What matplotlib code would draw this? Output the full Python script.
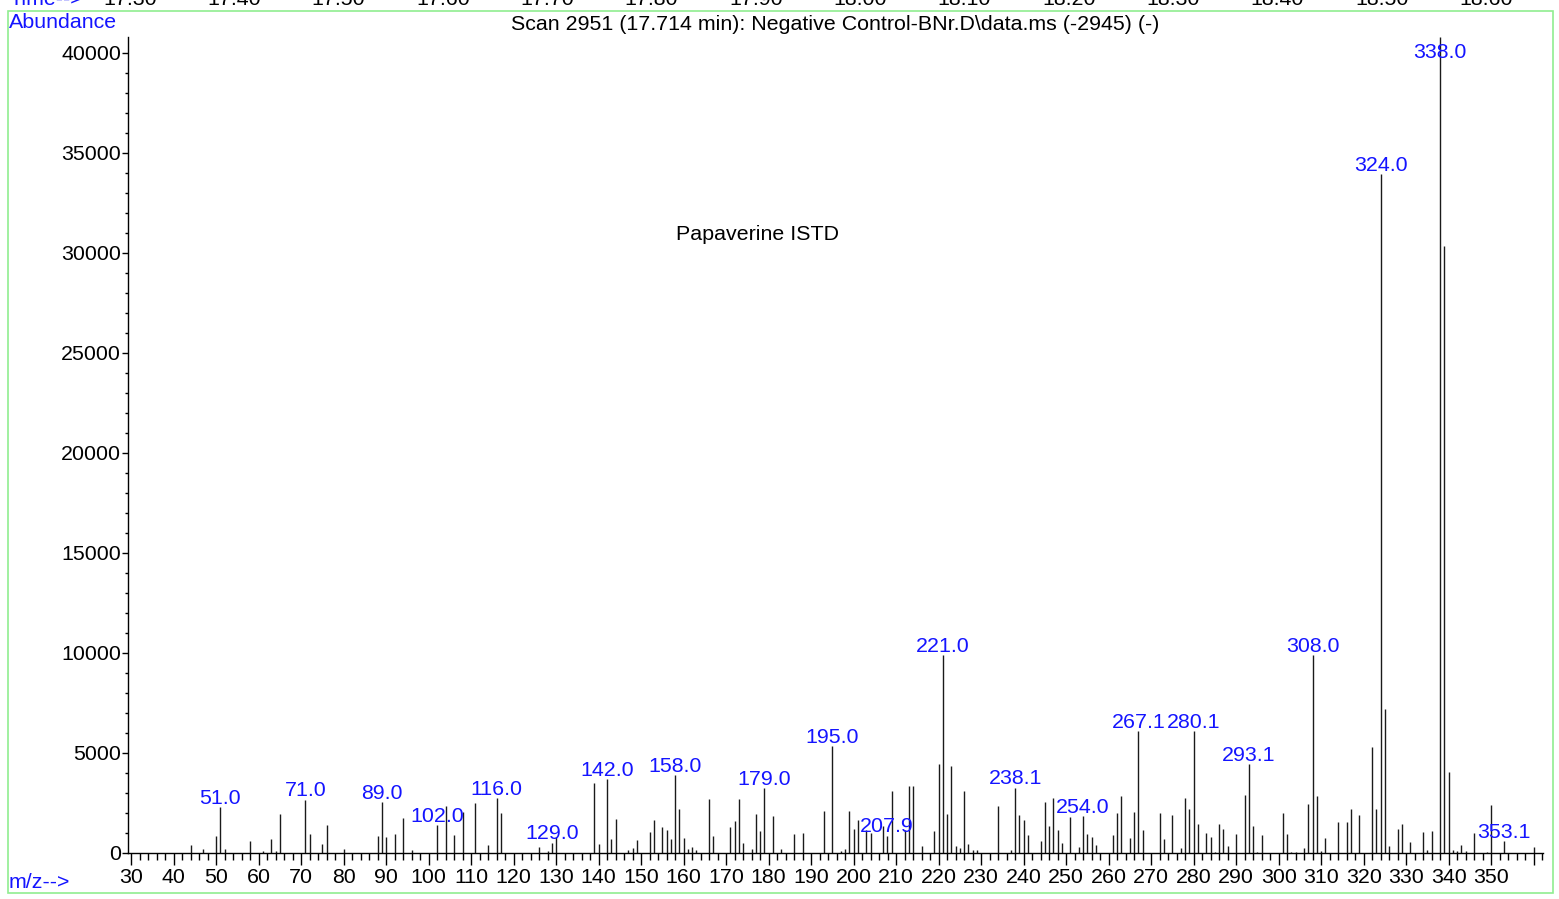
import numpy as np
import matplotlib
matplotlib.use("Agg")
import matplotlib.pyplot as plt
from matplotlib.patches import Rectangle
from matplotlib.ticker import MultipleLocator, FixedLocator

plt.rcParams['font.family'] = ['Liberation Sans', 'DejaVu Sans']
FS = 15.4

# m/z values and abundances
mz = [44, 47, 50, 51, 52, 58, 61, 63, 64, 65, 71, 72, 75, 76, 80,
      88, 89, 90, 92, 94, 96, 102, 104, 106, 108, 111, 114, 116, 117,
      126, 128, 129, 130, 139, 140, 142, 143, 144, 147, 148, 149,
      152, 153, 155, 156, 157, 158, 159, 160, 161, 162, 163, 166, 167,
      171, 172, 173, 174, 176, 177, 178, 179, 181, 183, 186, 188,
      193, 195, 197, 198, 199, 200, 201, 203, 204, 207, 207.9, 209,
      212, 213, 214, 216, 219, 220, 221, 222, 223, 224, 225, 226, 227,
      228, 229, 234, 237, 238, 239, 240, 241, 244, 245, 246, 247, 248,
      249, 251, 253, 254, 255, 256, 257, 261, 262, 263, 265, 266, 267,
      268, 272, 273, 275, 277, 278, 279, 280, 281, 283, 284, 285, 286,
      287, 288, 290, 292, 293, 294, 295, 296, 301, 302, 303, 304, 306,
      307, 308, 309, 310, 311, 314, 316, 317, 319, 322, 323, 324, 325,
      326, 328, 329, 331, 334, 335, 336, 338, 339, 340, 341, 342, 343,
      344, 346, 349, 350, 353.1, 360]
abundance = [380, 180, 850, 2300, 200, 600, 80, 720, 80, 1970, 2670, 930, 430, 1380, 220,
             850, 2530, 780, 930, 1730, 130, 1380, 2370, 880, 2050, 2500, 420, 2730, 2000,
             300, 80, 520, 800, 3500, 470, 3700, 720, 1720, 170, 250, 670,
             1050, 1630, 1300, 1170, 720, 3880, 2220, 750, 220, 320, 130, 2700, 870,
             1300, 1620, 2700, 500, 200, 1970, 1120, 3250, 1830, 220, 970, 1020,
             2120, 5330, 120, 200, 2120, 1200, 1670, 1170, 1000, 1370, 870, 3120,
             1170, 3370, 3350, 370, 1120, 4450, 9900, 1950, 4350, 350, 270, 3080, 450,
             130, 130, 2370, 130, 3270, 1900, 1630, 880, 600, 2550, 1330, 2730, 1130,
             500, 1800, 300, 1830, 930, 780, 380, 880, 2000, 2850, 770, 2070, 6080,
             1130, 1980, 720, 1920, 270, 2750, 2200, 6080, 1430, 1020, 800, 50, 1430,
             1200, 370, 970, 2880, 4430, 1350, 50, 900, 2000, 940, 50, 50, 250,
             2450, 9880, 2830, 80, 730, 1570, 1550, 2180, 1880, 5320, 2180, 33950, 7180,
             350, 1200, 1430, 530, 1030, 130, 1080, 40800, 30350, 4070, 140, 80, 380,
             100, 990, 50, 2420, 590, 280]

labelled = [51.0, 71.0, 89.0, 102.0, 116.0, 129.0, 142.0, 158.0, 179.0, 195.0,
            207.9, 221.0, 238.1, 254.0, 267.1, 280.1, 293.1, 308.0, 324.0, 338.0, 353.1]

time_ticks = ["17.30", "17.40", "17.50", "17.60", "17.70", "17.80", "17.90",
              "18.00", "18.10", "18.20", "18.30", "18.40", "18.50", "18.60"]

W, H = 1559, 899
fig = plt.figure(figsize=(W / 100, H / 100), dpi=100)
ax = fig.add_axes([128 / W, 1 - 853 / H, (1543 - 128) / W, (853 - 37) / H])

ax.vlines(mz, 0, abundance, color='#1a1a1a', lw=1.0)
ax.set_xlim(29.29, 362.2)
ax.set_ylim(0, 40800)

for sp in ['top', 'right']:
    ax.spines[sp].set_visible(False)
ax.spines['left'].set_linewidth(1.0)
ax.spines['bottom'].set_linewidth(1.0)

ax.xaxis.set_major_locator(FixedLocator(range(30, 361, 10)))
ax.set_xticklabels([str(v) if v <= 350 else "" for v in range(30, 361, 10)])
ax.xaxis.set_minor_locator(MultipleLocator(2))
ax.yaxis.set_major_locator(MultipleLocator(5000))
ax.yaxis.set_minor_locator(MultipleLocator(1000))
ax.tick_params(axis='x', which='major', length=8.5, width=1, pad=2, labelsize=FS)
ax.tick_params(axis='x', which='minor', length=4.7, width=1)
ax.tick_params(axis='y', which='major', length=4, width=1, pad=1, labelsize=FS)
ax.tick_params(axis='y', which='minor', length=2.2, width=1)

# peak labels
mz_arr = np.array(mz, dtype=float)
ab_arr = np.array(abundance, dtype=float)
for m in labelled:
    i = int(np.argmin(np.abs(mz_arr - m)))
    ly = min(ab_arr[i], 39600)
    ax.annotate(f"{m:.1f}", (mz_arr[i], ly), xytext=(0, 2.5), textcoords='offset points',
                ha='center', va='baseline', color='#1414ff', fontsize=FS)

ax.text(177.3, 30950, "Papaverine ISTD", ha='center', va='center', fontsize=FS)

fig.text(835 / W, 1 - 25 / H,
         "Scan 2951 (17.714 min): Negative Control-BNr.D\\data.ms (-2945) (-)",
         ha='center', va='center', fontsize=FS)
fig.text(9 / W, 1 - 22 / H, "Abundance", ha='left', va='center', color='#1414ff', fontsize=FS)
fig.text(9 / W, 1 - 882 / H, "m/z-->", ha='left', va='center', color='#1414ff', fontsize=FS)

# cut-off time axis row at the very top, as in the reference
fig.text(10 / W, 1 - 5 / H, "Time-->", ha='left', va='baseline', color='#1414ff', fontsize=FS)
for k, t in enumerate(time_ticks):
    fig.text((130 + k * 104.3) / W, 1 - 5 / H, t, ha='center', va='baseline', fontsize=FS)

fig.add_artist(Rectangle((8 / W, 1 - 893 / H), (1553 - 8) / W, (893 - 11) / H,
                         transform=fig.transFigure, fill=False, edgecolor='#90ee90', lw=1.2))

fig.savefig("out.png", dpi=100)
